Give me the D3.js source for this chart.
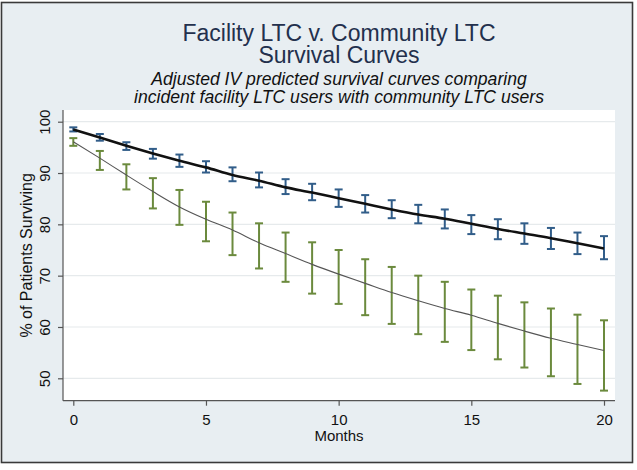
<!DOCTYPE html>
<html><head><meta charset="utf-8">
<script src="https://cdn.jsdelivr.net/npm/d3@7"></script>
<style>
html,body{margin:0;padding:0;background:#fff;}
svg{display:block;font-family:"Liberation Sans",Arial,sans-serif;}
</style></head>
<body>
<svg id="chart" width="637" height="470"></svg>
<script>
const months = [0,1,2,3,4,5,6,7,8,9,10,11,12,13,14,15,16,17,18,19,20];
const xTicks = [0,5,10,15,20];
const yTicks = [50,60,70,80,90,100];

const communityMean = [98.5,96.9,95.3,93.8,92.4,91.1,89.6,88.5,87.2,86.2,85.1,84.0,82.9,81.9,81.1,80.1,79.1,78.2,77.3,76.3,75.3];
const communityHi   = [98.9,97.6,96.0,94.7,93.6,92.3,91.1,90.1,88.8,87.9,86.8,85.7,84.7,83.8,82.9,81.8,81.0,80.2,79.3,78.4,77.7];
const communityLo   = [98.1,96.3,94.5,92.8,91.2,90.1,88.4,87.2,85.9,84.7,83.4,82.3,81.2,80.2,79.2,78.1,77.1,76.2,75.2,74.2,73.2];

const facilityMean = [96.1,92.9,89.6,86.4,83.4,81.0,78.9,76.4,74.3,72.2,70.3,68.5,66.7,65.1,63.6,62.3,60.7,59.2,57.8,56.6,55.4];
const facilityHi   = [96.8,94.3,91.7,89.0,86.7,84.4,82.3,80.2,78.4,76.5,75.0,73.2,71.7,70.0,68.8,67.3,66.1,64.8,63.6,62.4,61.3];
const facilityLo   = [95.3,90.6,86.8,83.1,79.9,76.7,74.0,71.4,68.8,66.5,64.5,62.3,60.6,58.6,57.1,55.5,53.7,52.1,50.4,48.9,47.6];

const titleLines = ["Facility LTC v. Community LTC","Survival Curves"];
const subtitleLines = ["Adjusted IV predicted survival curves comparing","incident facility LTC users with community LTC users"];
const xTitle = "Months";
const yTitle = "% of Patients Surviving";

const svg = d3.select("#chart");
// graph region
svg.append("rect").attr("x",1.5).attr("y",2.5).attr("width",631).attr("height",460)
  .attr("fill","#e8eef2").attr("stroke","#3a3a3a").attr("stroke-width",1.6);

const plot = {left:63, right:615, top:110, bottom:400.7};
const x = d3.scaleLinear().domain([0,20]).range([73.3,604]);
const y = d3.scaleLinear().domain([50,100]).range([378.3,121.7]);

svg.append("rect").attr("x",plot.left).attr("y",plot.top)
  .attr("width",plot.right-plot.left).attr("height",plot.bottom-plot.top).attr("fill","#fff");

// gridlines
svg.append("g").selectAll("line").data(yTicks).join("line")
  .attr("x1",plot.left).attr("x2",plot.right)
  .attr("y1",d=>y(d)).attr("y2",d=>y(d))
  .attr("stroke","#e6eaec").attr("stroke-width",1.2);

// axes
const yAxis = svg.append("g").attr("transform",`translate(${plot.left},0)`)
  .call(d3.axisLeft(y).tickValues(yTicks).tickSize(5).tickPadding(0));
yAxis.select(".domain").attr("d",`M0,${plot.top}V${plot.bottom}`).attr("stroke","#555").attr("stroke-width",1.2);
yAxis.selectAll(".tick line").attr("stroke","#555").attr("stroke-width",1.2);
yAxis.selectAll(".tick text").attr("x",0).attr("dy",null)
  .attr("transform","translate(-13.5,0) rotate(-90)")
  .attr("text-anchor","middle").attr("font-size",15).attr("fill","#111")
  .attr("font-family","Liberation Sans, Arial, sans-serif");

const xAxis = svg.append("g").attr("transform",`translate(0,${plot.bottom})`)
  .call(d3.axisBottom(x).tickValues(xTicks).tickSize(5).tickPadding(4));
xAxis.select(".domain").attr("d",`M${plot.left},0H${plot.right}`).attr("stroke","#555").attr("stroke-width",1.2);
xAxis.selectAll(".tick line").attr("stroke","#555").attr("stroke-width",1.2);
xAxis.selectAll(".tick text").attr("y",24.5).attr("dy",null)
  .attr("font-size",15).attr("fill","#111")
  .attr("font-family","Liberation Sans, Arial, sans-serif");

// axis titles
svg.append("text").attr("x",339).attr("y",441).attr("text-anchor","middle")
  .attr("font-size",15).attr("fill","#111").text(xTitle);
svg.append("text").attr("transform",`translate(32,${(plot.top+plot.bottom)/2}) rotate(-90)`)
  .attr("text-anchor","middle").attr("font-size",16).attr("fill","#111").text(yTitle);

// titles
svg.append("g").selectAll("text").data(titleLines).join("text")
  .attr("x",339).attr("y",(d,i)=>40.5+i*22).attr("text-anchor","middle")
  .attr("font-size",23).attr("fill","#23304d").text(d=>d);
svg.append("g").selectAll("text").data(subtitleLines).join("text")
  .attr("x",339).attr("y",(d,i)=>85+i*17.5).attr("text-anchor","middle")
  .attr("font-size",17.6).attr("font-style","italic").attr("fill","#111").text(d=>d);

function drawSeries(mean, lo, hi, barColor, lineColor, lineWidth){
  const g = svg.append("g");
  const cap = 4;
  const rows = months.map((m,i)=>({m, lo:lo[i], hi:hi[i], mean:mean[i]}));
  const eb = g.selectAll("g.eb").data(rows).join("g").attr("class","eb")
    .attr("stroke",barColor).attr("stroke-width",2).attr("fill","none");
  eb.append("line").attr("x1",d=>x(d.m)).attr("x2",d=>x(d.m)).attr("y1",d=>y(d.lo)).attr("y2",d=>y(d.hi));
  eb.append("line").attr("x1",d=>x(d.m)-cap).attr("x2",d=>x(d.m)+cap).attr("y1",d=>y(d.lo)).attr("y2",d=>y(d.lo));
  eb.append("line").attr("x1",d=>x(d.m)-cap).attr("x2",d=>x(d.m)+cap).attr("y1",d=>y(d.hi)).attr("y2",d=>y(d.hi));
  const line = d3.line().x(d=>x(d.m)).y(d=>y(d.mean)).curve(d3.curveMonotoneX);
  g.append("path").datum(rows).attr("d",line).attr("fill","none")
    .attr("stroke",lineColor).attr("stroke-width",lineWidth);
}
drawSeries(facilityMean, facilityLo, facilityHi, "#6b8a3d", "#555", 1.1);
drawSeries(communityMean, communityLo, communityHi, "#315d89", "#111", 2.6);
</script>
</body></html>
